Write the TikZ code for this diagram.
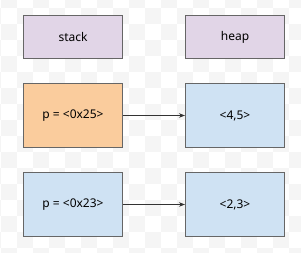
\documentclass[tikz,border=0pt]{standalone}
\usepackage{fontspec}
\setmainfont{Noto Sans}
\usetikzlibrary{arrows.meta}

\definecolor{chk}{RGB}{245,245,245}
\definecolor{lilac}{RGB}{225,213,231}
\definecolor{peach}{RGB}{250,204,157}
\definecolor{sky}{RGB}{207,226,243}
\definecolor{edge}{RGB}{102,102,102}
\definecolor{wire}{RGB}{51,51,51}

\begin{document}
\begin{tikzpicture}[x=1pt, y=-1pt, >={Stealth[length=6pt,width=4.5pt]},
    cell/.style={draw=edge, line width=1.1pt, minimum width=99pt,
      minimum height=64pt, font=\fontsize{12}{14}\selectfont},
    title/.style={cell, fill=lilac, minimum height=43pt},
    link/.style={->, draw=wire, line width=0.7pt}]
  \useasboundingbox (0,0) rectangle (301,253);

  % Background
  \begin{scope}
    \clip (0,0) rectangle (301,253);
    \fill[white] (0,0) rectangle (301,253);
    \foreach \i in {-1,...,18} {
      \foreach \j in {-1,...,15} {
        \pgfmathtruncatemacro{\odd}{mod(\i+\j+100,2)}
        \ifnum\odd=1
          \fill[chk] (1.3+16*\i, 8.3+16*\j) rectangle ++(16,16);
        \fi
      }
    }
  \end{scope}

  % Headers
  \node[title] (stack) at (73, 37) {stack};
  \node[title] (heap)  at (235, 37) {heap};

  % Stack cells
  \node[cell, fill=peach] (ptrA) at (73, 115.5) {p = <0x25>};
  \node[cell, fill=sky]   (ptrB) at (73, 204.5) {p = <0x23>};

  % Heap cells
  \node[cell, fill=sky] (valA) at (235, 115.5) {<4,5>};
  \node[cell, fill=sky] (valB) at (235, 204.5) {<2,3>};

  % Pointers
  \draw[link] (ptrA) -- (valA);
  \draw[link] (ptrB) -- (valB);
\end{tikzpicture}
\end{document}
